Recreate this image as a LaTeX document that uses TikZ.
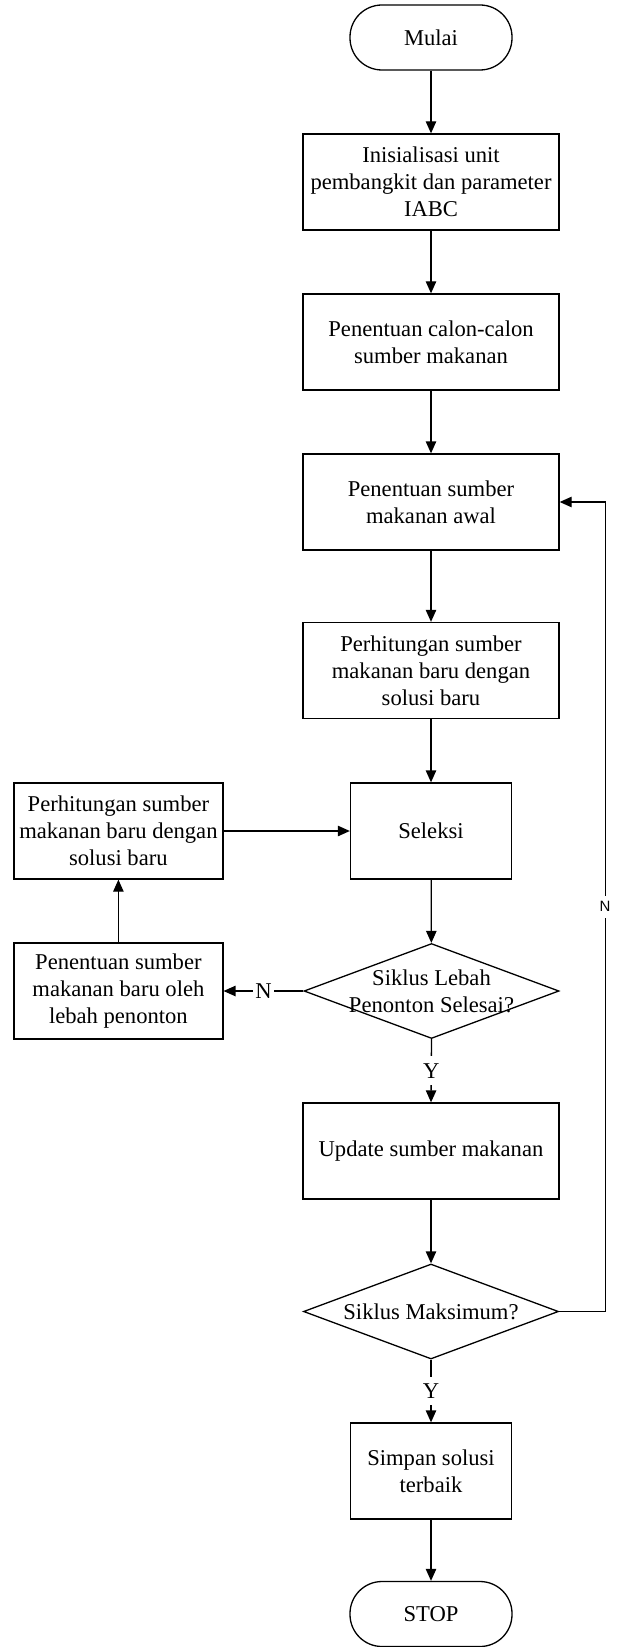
\documentclass[tikz,border=0pt]{standalone}
\usepackage{fontspec}
\setmainfont{Liberation Serif}
\newfontfamily\lblsans{Liberation Sans}
\usetikzlibrary{shapes.geometric, arrows.meta}

\tikzset{
  proses/.style={draw, rectangle, line width=0.65pt, align=center, minimum width=128pt, minimum height=48pt, inner sep=2pt},
  terminal/.style={draw, rectangle, rounded corners=16pt, line width=0.65pt, minimum width=81pt, minimum height=32.5pt},
  keputusan/.style={draw, diamond, line width=0.65pt, inner sep=0pt, minimum width=127.5pt, minimum height=47.5pt},
  panah/.style={-{Triangle[length=6pt,width=5.2pt]}, line width=0.65pt},
  lbl/.style={fill=white, inner xsep=1pt, inner ysep=3.5pt},
}

\begin{document}
\begin{tikzpicture}[x=0.5pt, y=-0.5pt, font=\fontsize{11.3}{13.6}\selectfont]
\useasboundingbox (0,0) rectangle (616,1647);
% kolom utama
\node[terminal] (mulai) at (431,37.5) {Mulai};
\node[proses] (init) at (431,182) {Inisialisasi unit\\pembangkit dan parameter\\IABC};
\node[proses] (calon) at (431,342) {Penentuan calon-calon\\sumber makanan};
\node[proses] (awal) at (431,502) {Penentuan sumber\\makanan awal};
\node[proses] (hitung) at (431,670.5) {Perhitungan sumber\\makanan baru dengan\\solusi baru};
\node[proses, minimum width=80.5pt] (seleksi) at (431,831) {Seleksi};
\node[keputusan, label={[align=center]center:Siklus Lebah\\Penonton Selesai?}] (siklus) at (431.5,991) {};
\node[proses] (update) at (431,1151) {Update sumber makanan};
\node[keputusan, label={center:Siklus Maksimum?}] (maks) at (431,1311.5) {};
\node[proses, minimum width=80.5pt] (simpan) at (431,1471) {Simpan solusi\\terbaik};
\node[terminal] (stop) at (431,1614) {STOP};
% kolom kiri
\node[proses, minimum width=104.5pt] (hitungb) at (118.4,831) {Perhitungan sumber\\makanan baru dengan\\solusi baru};
\node[proses, minimum width=104.5pt] (lebah) at (118.4,991) {Penentuan sumber\\makanan baru oleh\\lebah penonton};

\draw[panah] (mulai) -- (init);
\draw[panah] (init) -- (calon);
\draw[panah] (calon) -- (awal);
\draw[panah] (awal) -- (hitung);
\draw[panah] (hitung) -- (seleksi);
\draw[panah] (seleksi) -- (siklus);
\draw[panah] (siklus.west) -- node[lbl]{N} (lebah.east);
\draw[panah] (lebah) -- (hitungb);
\draw[panah] (hitungb) -- (seleksi);
\draw[panah] (siklus.south) -- node[lbl]{Y} (update.north);
\draw[panah] (update) -- (maks);
\draw[panah] (maks.south) -- node[lbl]{Y} (simpan.north);
\draw[panah] (simpan) -- (stop);
\draw[panah] (maks.east) -- ++(46,0) |- node[pos=0.25, lbl, inner ysep=2.8pt, font=\lblsans\fontsize{7.5}{9}\selectfont]{N} (awal.east);
\end{tikzpicture}
\end{document}
